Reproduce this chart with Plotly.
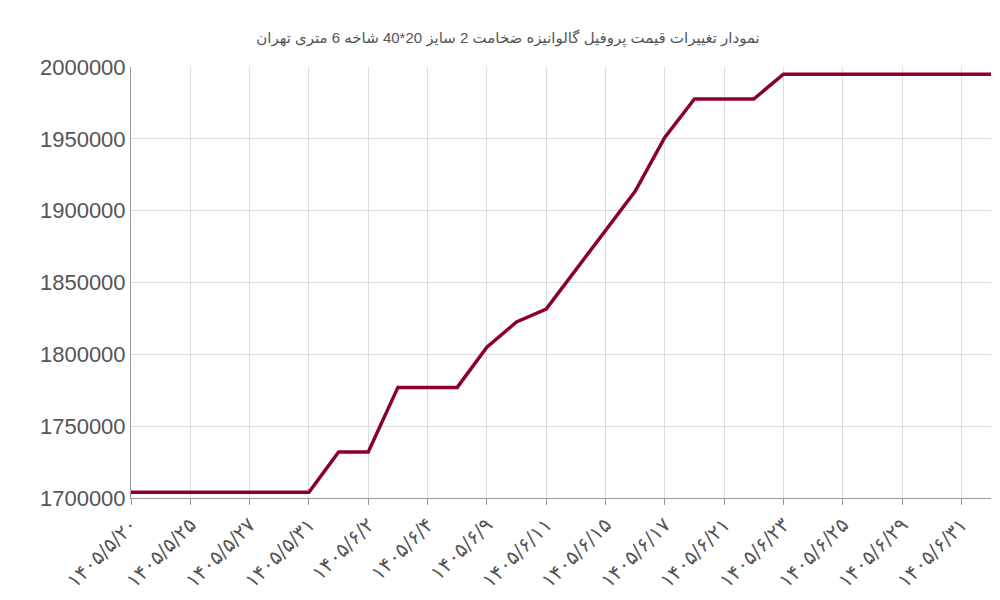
import plotly.graph_objects as go

idx = list(range(30))
prices = [1704000]*7 + [1732000, 1732000, 1777000, 1777000, 1777000, 1805000, 1822500, 1831500,
          1859000, 1886000, 1913500, 1951000, 1977700, 1977700, 1977700] + [1995000]*8
tick_idx = list(range(0, 30, 2))
tick_labels = ["۱۴۰۵/۵/۲۰", "۱۴۰۵/۵/۲۵", "۱۴۰۵/۵/۲۷", "۱۴۰۵/۵/۳۱", "۱۴۰۵/۶/۲", "۱۴۰۵/۶/۴",
               "۱۴۰۵/۶/۹", "۱۴۰۵/۶/۱۱", "۱۴۰۵/۶/۱۵", "۱۴۰۵/۶/۱۷", "۱۴۰۵/۶/۲۱", "۱۴۰۵/۶/۲۳",
               "۱۴۰۵/۶/۲۵", "۱۴۰۵/۶/۲۹", "۱۴۰۵/۶/۳۱"]

fig = go.Figure(go.Scatter(x=idx, y=prices, mode="lines",
                           line=dict(color="#8b0034", width=3.5), hoverinfo="y"))
fig.update_layout(
    width=1000, height=600, plot_bgcolor="white", paper_bgcolor="white",
    margin=dict(l=123, r=17, t=59, b=110, autoexpand=False),
    title=dict(text="نمودار تغییرات قیمت پروفیل گالوانیزه ضخامت 2 سایز 20*40 شاخه 6 متری تهران",
               x=0.5, y=0.95, yanchor="middle", xanchor="center",
               font=dict(family="Liberation Sans, DejaVu Sans", size=15, color="#555")),
    showlegend=False,
)
fig.update_xaxes(range=[0, 29], tickvals=tick_idx, ticktext=tick_labels, tickangle=-45,
                 automargin=False,
                 showgrid=True, gridcolor="#dcdcdc", showline=True, linecolor="#999",
                 ticks="outside", tickcolor="#999", ticklen=6,
                 tickfont=dict(family="DejaVu Sans", size=20, color="#555"))
fig.update_yaxes(range=[1700000, 2000000], dtick=50000, tickformat="d", automargin=False,
                 showgrid=True, gridcolor="#dcdcdc", showline=True, linecolor="#999",
                 zeroline=False, tickfont=dict(family="Liberation Sans", size=22, color="#555"))
fig.write_html("out.html")
